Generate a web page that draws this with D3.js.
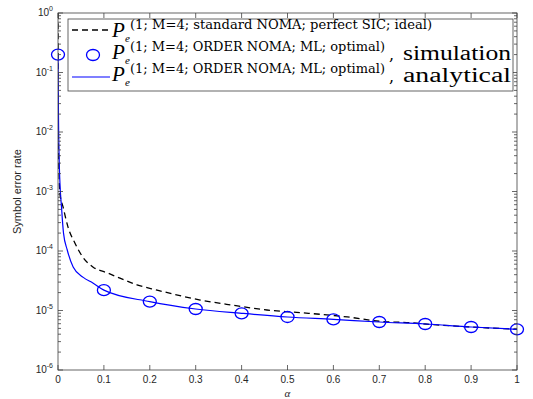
<!DOCTYPE html>
<html>
<head>
<meta charset="utf-8">
<script src="https://cdn.jsdelivr.net/npm/d3@7"></script>
<style>
  html, body { margin: 0; padding: 0; background: #fff; }
  svg { display: block; }
</style>
</head>
<body>
<div id="chart"></div>
<script>
// Symbol error rate vs power split alpha (log y axis)
const alphaTicks = [0, 0.1, 0.2, 0.3, 0.4, 0.5, 0.6, 0.7, 0.8, 0.9, 1];
const yExponents = [-6, -5, -4, -3, -2, -1, 0];

// standard NOMA, perfect SIC (dashed black)
const stdAlpha = [0, 0.0005, 0.002, 0.004, 0.011, 0.022, 0.037, 0.054, 0.076, 0.107, 0.135, 0.172, 0.216,
  0.31, 0.38, 0.455, 0.52, 0.63, 0.7, 0.77, 0.8, 0.9, 1];
const stdSer = [1, 1e-2, 2.5e-3, 9.4e-4, 5.5e-4, 2.5e-4, 1.35e-4, 7.9e-5, 5.4e-5, 4.3e-5, 3.5e-5, 2.7e-5, 2.2e-5,
  1.5e-5, 1.23e-5, 1.02e-5, 9.3e-6, 7.8e-6, 6.6e-6, 6.2e-6, 5.93e-6, 5.28e-6, 4.83e-6];

// ORDER NOMA, ML, simulation (circles)
const simAlpha = [0, 0.1, 0.2, 0.3, 0.4, 0.5, 0.6, 0.7, 0.8, 0.9, 1];
const simSer = [0.2, 2.2e-5, 1.41e-5, 1.06e-5, 8.97e-6, 7.78e-6, 7.11e-6, 6.41e-6, 5.93e-6, 5.28e-6, 4.83e-6];

// ORDER NOMA, ML, analytical (solid blue)
const anaAlpha = [0, 0.001, 0.003, 0.008, 0.012, 0.02, 0.033, 0.055, 0.076, 0.1, 0.2, 0.3, 0.4, 0.5, 0.6, 0.7, 0.8, 0.9, 1];
const anaSer = [0.2, 2e-2, 2.5e-3, 5e-4, 2e-4, 1.05e-4, 5.4e-5, 3.6e-5, 2.9e-5, 2.2e-5, 1.41e-5, 1.06e-5, 8.97e-6,
  7.78e-6, 7.11e-6, 6.41e-6, 5.93e-6, 5.28e-6, 4.83e-6];

const legendSup = [
  "(1; M=4; standard NOMA; perfect SIC; ideal)",
  "(1; M=4; ORDER NOMA; ML; optimal)",
  "(1; M=4; ORDER NOMA; ML; optimal)",
];
const legendTail = ["", "simulation", "analytical"];

const W = 533, H = 399;
const margin = { top: 13, right: 16, bottom: 29, left: 58 };
const AXIS = "#404040";
const BLUE = "#0000ff";

const svg = d3.select("#chart").append("svg")
  .attr("width", W)
  .attr("height", H);

const x = d3.scaleLinear().domain([0, 1]).range([margin.left, W - margin.right]);
const y = d3.scaleLog().domain([1e-6, 1]).range([H - margin.bottom, margin.top]);

svg.append("defs").append("clipPath").attr("id", "plot-clip")
  .append("rect")
  .attr("x", x(0)).attr("y", y(1))
  .attr("width", x(1) - x(0)).attr("height", y(1e-6) - y(1));

const toPts = (as, vs) => as.map((a, i) => [a, vs[i]]);
const line = d3.line().x((d) => x(d[0])).y((d) => y(d[1])).curve(d3.curveMonotoneX);

const plot = svg.append("g").attr("clip-path", "url(#plot-clip)");

plot.append("path")
  .datum(toPts(stdAlpha, stdSer))
  .attr("d", line)
  .attr("fill", "none")
  .attr("stroke", "#000")
  .attr("stroke-width", 1.3)
  .attr("stroke-dasharray", "6,4");

plot.append("path")
  .datum(toPts(anaAlpha, anaSer))
  .attr("d", line)
  .attr("fill", "none")
  .attr("stroke", BLUE)
  .attr("stroke-width", 1.2);

svg.append("g")
  .selectAll("ellipse")
  .data(toPts(simAlpha, simSer))
  .join("ellipse")
  .attr("cx", (d) => x(d[0]))
  .attr("cy", (d) => y(d[1]))
  .attr("rx", 6.5)
  .attr("ry", 5.5)
  .attr("fill", "none")
  .attr("stroke", BLUE)
  .attr("stroke-width", 1.3);

// axes box with inward ticks on all four sides
const x0 = x(0), x1 = x(1), yb = y(1e-6), yt = y(1);
const axes = svg.append("g").attr("stroke", AXIS).attr("stroke-width", 0.8).attr("fill", "none");
axes.append("rect").attr("x", x0).attr("y", yt).attr("width", x1 - x0).attr("height", yb - yt);

axes.selectAll("path.xtick")
  .data(alphaTicks)
  .join("path")
  .attr("class", "xtick")
  .attr("d", (d) => `M${x(d)},${yb}v-5M${x(d)},${yt}v5`);

const minorVals = [];
for (let e = -6; e < 0; e++) for (let k = 2; k <= 9; k++) minorVals.push(k * Math.pow(10, e));

axes.selectAll("path.ytick")
  .data(yExponents)
  .join("path")
  .attr("class", "ytick")
  .attr("d", (d) => `M${x0},${y(Math.pow(10, d))}h5M${x1},${y(Math.pow(10, d))}h-5`);

axes.selectAll("path.yminor")
  .data(minorVals)
  .join("path")
  .attr("class", "yminor")
  .attr("d", (d) => `M${x0},${y(d)}h3M${x1},${y(d)}h-3`);

// tick labels
const tickFont = "'Liberation Sans', Arial, sans-serif";
svg.append("g")
  .selectAll("text")
  .data(alphaTicks)
  .join("text")
  .attr("x", (d) => x(d))
  .attr("y", yb + 13)
  .attr("text-anchor", "middle")
  .style("font-family", tickFont)
  .style("font-size", "10px")
  .style("fill", "#262626")
  .text((d) => d);

const yl = svg.append("g")
  .selectAll("text")
  .data(yExponents)
  .join("text")
  .attr("x", x0 - 5)
  .attr("y", (d) => y(Math.pow(10, d)) + 3)
  .attr("text-anchor", "end")
  .style("font-family", tickFont)
  .style("font-size", "10px")
  .style("fill", "#262626");
yl.append("tspan").text("10");
yl.append("tspan")
  .attr("dy", -5)
  .style("font-size", "7px")
  .text((d) => (d < 0 ? "-" + (-d) : String(d)));

svg.append("text")
  .attr("transform", `translate(21,${(yt + yb) / 2}) rotate(-90)`)
  .attr("text-anchor", "middle")
  .style("font-family", tickFont)
  .style("font-size", "11px")
  .style("fill", "#262626")
  .text("Symbol error rate");

svg.append("text")
  .attr("x", (x0 + x1) / 2)
  .attr("y", H - 2)
  .attr("text-anchor", "middle")
  .style("font-family", "'Liberation Serif', serif")
  .style("font-style", "italic")
  .style("font-size", "11px")
  .style("fill", "#262626")
  .text("α");

// legend
const lg = svg.append("g");
lg.append("rect")
  .attr("x", 68).attr("y", 19)
  .attr("width", 445).attr("height", 72)
  .attr("fill", "#fff")
  .attr("stroke", AXIS)
  .attr("stroke-width", 0.8);

const rowBase = [37, 59, 81];
const supWidth = [302, 255, 255];
const serif = "'DejaVu Serif', serif";
const pFont = "'Liberation Serif', 'Times New Roman', serif";

lg.append("line")
  .attr("x1", 72).attr("x2", 110)
  .attr("y1", rowBase[0] - 7).attr("y2", rowBase[0] - 7)
  .attr("stroke", "#000").attr("stroke-width", 1.3).attr("stroke-dasharray", "6,4");
lg.append("ellipse")
  .attr("cx", 93).attr("cy", rowBase[1] - 4)
  .attr("rx", 6.5).attr("ry", 5.5)
  .attr("fill", "none").attr("stroke", BLUE).attr("stroke-width", 1.3);
lg.append("line")
  .attr("x1", 72).attr("x2", 110)
  .attr("y1", rowBase[2] - 4).attr("y2", rowBase[2] - 4)
  .attr("stroke", BLUE).attr("stroke-width", 1.2);

legendSup.forEach((sup, i) => {
  const b = rowBase[i];
  lg.append("text")
    .attr("x", 112).attr("y", b)
    .style("font-family", pFont).style("font-style", "italic").style("font-size", "21px")
    .text("P");
  lg.append("text")
    .attr("x", 125).attr("y", b + 5)
    .style("font-family", pFont).style("font-style", "italic").style("font-size", "11px")
    .text("e");
  lg.append("text")
    .attr("x", 130).attr("y", b - 8)
    .attr("textLength", supWidth[i])
    .attr("lengthAdjust", "spacingAndGlyphs")
    .style("font-family", serif).style("font-size", "12px")
    .text(sup);
  if (legendTail[i]) {
    lg.append("text")
      .attr("x", 389).attr("y", b + 1)
      .style("font-family", serif).style("font-size", "16px")
      .text(",");
    lg.append("text")
      .attr("x", 403).attr("y", b + 1)
      .attr("textLength", 108)
      .attr("lengthAdjust", "spacingAndGlyphs")
      .style("font-family", pFont).style("font-size", "20px")
      .text(legendTail[i]);
  }
});
</script>
</body>
</html>
